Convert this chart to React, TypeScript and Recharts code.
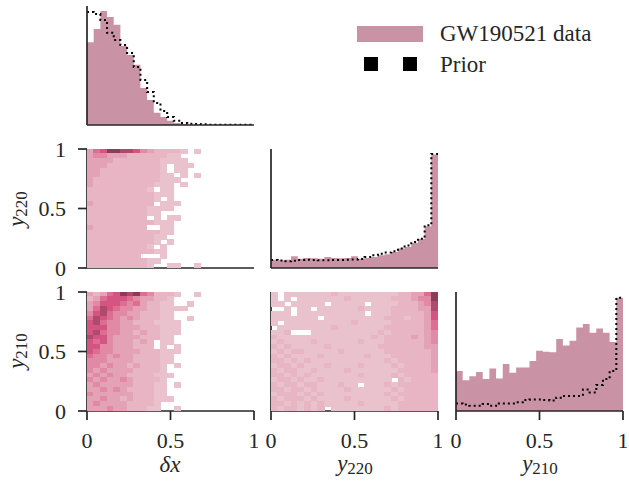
import { ScatterChart, Scatter, ComposedChart, Area, Line, XAxis, YAxis } from 'recharts';

// axis ticks shared by every panel
const TICKS = [0, 0.5, 1];
const N_BINS = 25;

// 1D histograms (density), 25 bins on [0, 1]
const DX_HIST = [2.59, 3.0, 3.56, 3.38, 3.13, 2.47, 2.19, 1.88, 1.16, 0.78, 0.38, 0.25, 0.13, 0.06, 0.03, 0.01, 0, 0, 0, 0, 0, 0, 0, 0, 0];
const DX_PRIOR = [3.53, 3.47, 3.28, 2.88, 2.66, 2.5, 2.25, 1.81, 1.41, 1.03, 0.69, 0.44, 0.25, 0.13, 0.06, 0.04, 0.03, 0.02, 0.01, 0.01, 0.01, 0.01, 0.01, 0.01, 0.01];
const Y220_HIST = [0.46, 0.43, 0.46, 0.65, 0.52, 0.56, 0.54, 0.52, 0.61, 0.56, 0.54, 0.56, 0.65, 0.52, 0.56, 0.61, 0.71, 0.76, 0.89, 1.08, 1.17, 1.39, 1.62, 2.32, 6.33];
const Y220_PRIOR = [0.45, 0.42, 0.37, 0.41, 0.45, 0.46, 0.45, 0.43, 0.43, 0.45, 0.45, 0.46, 0.47, 0.5, 0.61, 0.71, 0.8, 0.86, 0.93, 1.08, 1.26, 1.45, 1.63, 2.38, 6.35];
const Y210_HIST = [0.69, 0.53, 0.6, 0.67, 0.55, 0.73, 0.56, 0.81, 0.66, 0.75, 0.75, 0.86, 1.04, 1.02, 1.01, 1.24, 1.13, 1.21, 1.44, 1.5, 1.35, 1.42, 1.35, 1.19, 1.95];
const Y210_PRIOR = [0.13, 0.11, 0.09, 0.09, 0.12, 0.09, 0.13, 0.13, 0.13, 0.15, 0.19, 0.2, 0.2, 0.19, 0.18, 0.23, 0.26, 0.26, 0.26, 0.37, 0.32, 0.45, 0.55, 0.69, 1.95];
const HIST_TOP = { dx: 3.72, y220: 6.63, y210: 2.05 };

// 2D histograms: rows top (y=1) to bottom (y=0), '.' = empty, 1..8 = count level
const HEAT_DX_Y220 = [
  '356887764322221.1........',
  '34433322222211...........',
  '333322222221111..........',
  '333222222221.111.........',
  '332222222221.11..........',
  '3322222222211.1.1........',
  '32222222222111...........',
  '3222222222111.1..........',
  '2222222221.11............',
  '2222222222111............',
  '22222222221.1............',
  '3222222222.111...........',
  '2222222221111............',
  '22222222211..............',
  '222222222.1.11...........',
  '2222222222111............',
  '322222222..11............',
  '2222222222211............',
  '222222222211.............',
  '22222222221.1............',
  '2222222221.1.............',
  '222222222211.............',
  '22222222...1.............',
  '22222222211..............',
  '2222222221..11..1........',
];
const HEAT_DX_Y210 = [
  '32356878542221..1........',
  '2356665433221............',
  '3466654532211..1.........',
  '357654433221111..........',
  '4675443322211............',
  '5765434322211..1.........',
  '67544332221111...........',
  '66644333222111...........',
  '67544332322111...........',
  '7664333322211............',
  '6564333232.11............',
  '6644333222.1.1...........',
  '65443333222111...........',
  '5443433222211............',
  '4443333222211............',
  '443433232221.1...........',
  '434333322221.............',
  '3434332222111............',
  '434334322221.............',
  '343333322211.1...........',
  '334343222211.............',
  '433333322211.............',
  '3343323222111............',
  '34333322221..............',
  '33343322211..1...........',
];
const HEAT_Y220_Y210 = [
  '1.11111112111111111223358',
  '1.1.111111121111112223448',
  '11.11111.11111.1111222347',
  '..1.11.111111211112222337',
  '111.1111111111.1112222236',
  '1111111.11111111122212236',
  '1.11111111112111112222235',
  '.111111112111111122222235',
  '112...1111111111212222234',
  '2111111111111112122223234',
  '1211112111111211122222234',
  '2121111121111111222222233',
  '1212211111211111122222223',
  '2121111211111121112222223',
  '2212121111111111121222223',
  '1221211121111211112122223',
  '2122112111121111111222223',
  '2212121111111211112122222',
  '122121121111111111.212222',
  '2122122111211.11121222222',
  '2212212111121111112122222',
  '1222121211111111121222222',
  '2122212111121111112122222',
  '2212121211111211111222222',
  '21221212.1111111121222222',
];

const HEAT_COLORS = ['none', '#eac2ce', '#e7b5c4', '#e4a2b7', '#e189a5', '#dd6d93', '#d45482', '#ae4a6c', '#8c3c58'];
const HIST_FILL = 'rgb(150, 40, 75)';
const INK = '#262626';
const FONT = '"Liberation Serif", "DejaVu Serif", serif';

// layout of the corner grid
const COLS = [87, 271, 456];
const ROWS = [6, 149, 292];
const PW = 167;
const PH = 119;
const Y_W = 80;
const X_H = 50;
const M_TOP = 16;
const M_RIGHT = 4;
const CW = PW + Y_W + M_RIGHT;
const CH = PH + M_TOP + X_H;
const CELL_W = PW / N_BINS;
const CELL_H = PH / N_BINS;

const axisLine = { stroke: INK, strokeWidth: 1.7 };
const tickStyle = { fill: INK, fontSize: 22, fontFamily: FONT };

const toCells = (rows: string[]) =>
  rows
    .flatMap((row, r) =>
      row.split('').map((ch, c) => ({
        x: (c + 0.5) / N_BINS,
        y: 1 - (r + 0.5) / N_BINS,
        level: ch === '.' ? 0 : Number(ch),
      })),
    )
    .filter((d) => d.level > 0);

const toSteps = (hist: number[], prior: number[]) =>
  Array.from({ length: N_BINS + 1 }, (_, i) => ({
    x: i / N_BINS,
    h: hist[Math.min(i, N_BINS - 1)],
    p: prior[Math.min(i, N_BINS - 1)],
  }));

const cellShape = (props: any) => {
  const { cx, cy, payload } = props;
  return (
    <rect
      x={cx - CELL_W / 2 - 0.3}
      y={cy - CELL_H / 2 - 0.3}
      width={CELL_W + 0.6}
      height={CELL_H + 0.6}
      fill={HEAT_COLORS[payload.level]}
      shapeRendering="crispEdges"
    />
  );
};

const Slot = ({ col, row, children }: { col: number; row: number; children: React.ReactNode }) => (
  <div style={{ position: 'absolute', left: COLS[col] - Y_W, top: ROWS[row] - M_TOP, width: CW, height: CH }}>
    {children}
  </div>
);

interface HeatProps {
  rows: string[];
  xLabels: boolean;
  yLabels: boolean;
}

const Heat = ({ rows, xLabels, yLabels }: HeatProps) => (
  <ScatterChart width={CW} height={CH} margin={{ top: M_TOP, right: M_RIGHT, bottom: 0, left: 0 }}>
    <Scatter data={toCells(rows)} shape={cellShape} isAnimationActive={false} />
    <XAxis
      type="number"
      dataKey="x"
      domain={[0, 1]}
      ticks={TICKS}
      interval={0}
      height={X_H}
      axisLine={axisLine}
      tickLine={axisLine}
      tickSize={9}
      tickMargin={12}
      tick={xLabels ? tickStyle : false}
    />
    <YAxis
      type="number"
      dataKey="y"
      domain={[0, 1]}
      ticks={TICKS}
      interval={0}
      width={Y_W}
      axisLine={axisLine}
      tickLine={axisLine}
      tickSize={9}
      tickMargin={12}
      tick={yLabels ? tickStyle : false}
    />
  </ScatterChart>
);

interface HistProps {
  hist: number[];
  prior: number[];
  top: number;
  xLabels: boolean;
}

const Hist = ({ hist, prior, top, xLabels }: HistProps) => (
  <ComposedChart width={CW} height={CH} data={toSteps(hist, prior)} margin={{ top: M_TOP, right: M_RIGHT, bottom: 0, left: 0 }}>
    <XAxis
      type="number"
      dataKey="x"
      domain={[0, 1]}
      ticks={TICKS}
      interval={0}
      height={X_H}
      axisLine={axisLine}
      tickLine={axisLine}
      tickSize={9}
      tickMargin={12}
      tick={xLabels ? tickStyle : false}
    />
    <YAxis type="number" domain={[0, top]} allowDataOverflow width={Y_W} axisLine={axisLine} tickLine={false} tick={false} />
    <Area type="stepAfter" dataKey="h" fill={HIST_FILL} fillOpacity={0.5} stroke="none" isAnimationActive={false} />
    <Line
      type="stepAfter"
      dataKey="p"
      stroke="#000"
      strokeWidth={2}
      strokeDasharray="2 3"
      dot={false}
      isAnimationActive={false}
    />
  </ComposedChart>
);

const SubLabel = ({ sub, x, y, rotate }: { sub: string; x: number; y: number; rotate?: boolean }) => (
  <text
    transform={`translate(${x},${y})${rotate ? ' rotate(-90)' : ''}`}
    textAnchor="middle"
    fill={INK}
    fontFamily={FONT}
    fontSize={23}
  >
    <tspan fontStyle="italic">y</tspan>
    <tspan fontSize={17} dy={3}>
      {sub}
    </tspan>
  </text>
);

export default function App() {
  return (
    <div style={{ position: 'absolute', left: 0, top: 0, width: 629, height: 487, background: '#fff', overflow: 'hidden' }}>
      <Slot col={0} row={0}>
        <Hist hist={DX_HIST} prior={DX_PRIOR} top={HIST_TOP.dx} xLabels={false} />
      </Slot>
      <Slot col={0} row={1}>
        <Heat rows={HEAT_DX_Y220} xLabels={false} yLabels />
      </Slot>
      <Slot col={1} row={1}>
        <Hist hist={Y220_HIST} prior={Y220_PRIOR} top={HIST_TOP.y220} xLabels={false} />
      </Slot>
      <Slot col={0} row={2}>
        <Heat rows={HEAT_DX_Y210} xLabels yLabels />
      </Slot>
      <Slot col={1} row={2}>
        <Heat rows={HEAT_Y220_Y210} xLabels yLabels={false} />
      </Slot>
      <Slot col={2} row={2}>
        <Hist hist={Y210_HIST} prior={Y210_PRIOR} top={HIST_TOP.y210} xLabels />
      </Slot>

      <svg width={629} height={487} style={{ position: 'absolute', left: 0, top: 0, pointerEvents: 'none' }}>
        <text x={170} y={472} textAnchor="middle" fill={INK} fontFamily={FONT} fontSize={23} fontStyle="italic">
          δx
        </text>
        <SubLabel sub="220" x={355} y={471} />
        <SubLabel sub="210" x={540} y={471} />
        <SubLabel sub="220" x={24} y={209} rotate />
        <SubLabel sub="210" x={24} y={351} rotate />

        <rect x={357} y={26} width={66} height={16} fill="#ca93a5" />
        <text x={440} y={41} fill={INK} fontFamily={FONT} fontSize={23}>
          GW190521 data
        </text>
        <rect x={364} y={57} width={14} height={14} fill="#000" />
        <rect x={403} y={57} width={14} height={14} fill="#000" />
        <text x={440} y={72} fill={INK} fontFamily={FONT} fontSize={23}>
          Prior
        </text>
      </svg>
    </div>
  );
}
